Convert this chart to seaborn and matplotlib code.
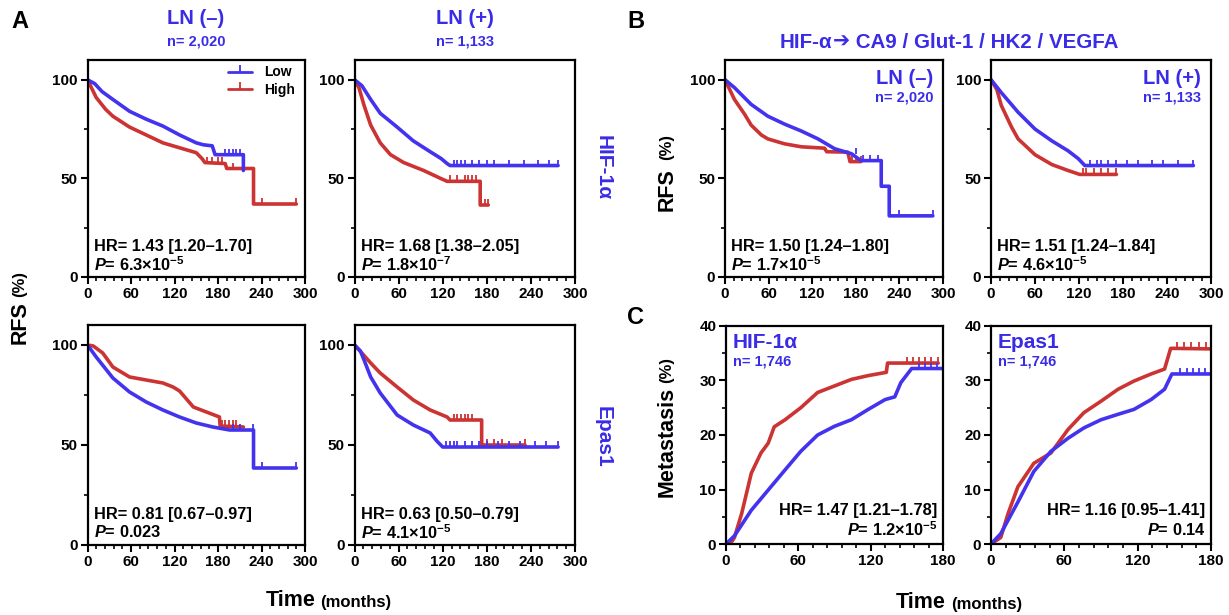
import numpy as np
import matplotlib
matplotlib.use('Agg')
import matplotlib.pyplot as plt
from matplotlib.lines import Line2D
from matplotlib.ticker import MultipleLocator
import seaborn as sns

# ---- data (time in months, RFS / metastasis in %) ----
# A, LN(-), HIF-1a
a1_low_t = [0, 10, 20, 35, 58, 81, 104, 127, 150, 160, 172, 176, 200, 215, 215]
a1_low_s = [100, 98, 94, 90, 84, 80, 76.5, 72, 68, 67, 66.5, 62, 62, 62, 54]
a1_low_c = [190, 195, 200, 205, 210]
a1_high_t = [0, 12, 25, 35, 58, 81, 104, 127, 150, 158, 162, 190, 192, 229, 229, 288]
a1_high_s = [100, 91, 85, 81.5, 76, 72, 68, 65.5, 63, 60, 58, 57.5, 55, 55, 37, 37]
a1_high_c = [165, 172, 180, 185, 200, 240, 288]
# A, LN(+), HIF-1a
a2_low_t = [0, 10, 22, 35, 58, 80, 103, 118, 126, 130, 277]
a2_low_s = [100, 97, 90, 83, 76, 69, 63.5, 60, 57.5, 56.5, 56.5]
a2_low_c = [135, 140, 145, 150, 160, 170, 180, 190, 210, 230, 250, 265, 277]
a2_high_t = [0, 6, 13, 22, 35, 49, 67, 94, 117, 126, 171, 171, 182]
a2_high_s = [100, 96, 87, 77, 68, 62, 58, 54, 50, 48.5, 48.5, 36.5, 36.5]
a2_high_c = [130, 140, 150, 155, 160, 165, 178, 182]
# A, LN(-), Epas1
a3_low_t = [0, 12, 35, 58, 81, 104, 127, 150, 173, 196, 229, 229, 288]
a3_low_s = [100, 94, 83.5, 76.5, 71.5, 67.5, 64, 61, 59, 57.5, 57.5, 38.5, 38.5]
a3_low_c = [200, 210, 228, 240, 288]
a3_high_t = [0, 8, 21, 35, 58, 81, 104, 118, 127, 146, 164, 182, 183, 215]
a3_high_s = [100, 99.5, 96, 89, 84, 82.5, 81, 79, 77, 69, 66.5, 64, 59.5, 59]
a3_high_c = [185, 190, 195, 200, 205]
# A, LN(+), Epas1
a4_low_t = [0, 8, 13, 22, 35, 58, 80, 103, 112, 120, 277]
a4_low_s = [100, 97, 92.5, 84, 76, 65, 60, 56, 52, 49, 49]
a4_low_c = [125, 130, 135, 140, 150, 160, 170, 180, 195, 210, 225, 245, 260, 277]
a4_high_t = [0, 10, 22, 35, 58, 80, 103, 126, 130, 173, 173, 232]
a4_high_s = [100, 96, 91, 86, 79, 72.5, 67.5, 64, 62.5, 62.5, 50, 50]
a4_high_c = [135, 140, 145, 150, 155, 160, 180, 190, 200, 232]
# B, LN(-), HIF-a targets
b1_low_t = [0, 13, 36, 59, 82, 105, 128, 151, 174, 187, 215, 215, 226, 226, 286]
b1_low_s = [100, 96, 87.5, 81.5, 77.5, 74, 70, 65, 62.5, 59, 59, 46, 46, 31, 31]
b1_low_c = [180, 190, 200, 210, 240, 286]
b1_high_t = [0, 13, 27, 36, 50, 59, 82, 105, 137, 140, 169, 172, 187]
b1_high_s = [100, 90, 82.5, 77, 72, 70, 67.5, 66, 65.3, 63.5, 63.3, 58.5, 58.5]
b1_high_c = [175, 180, 187]
# B, LN(+)
b2_low_t = [0, 14, 37, 60, 83, 105, 119, 128, 276]
b2_low_s = [100, 93.5, 83.5, 75, 69, 64, 60, 56.5, 56.5]
b2_low_c = [135, 145, 150, 160, 170, 185, 200, 220, 235, 255, 276]
b2_high_t = [0, 8, 14, 28, 37, 60, 83, 105, 121, 171]
b2_high_s = [100, 95, 87, 76, 70, 62, 57, 54, 52, 52]
b2_high_c = [125, 130, 140, 150, 160, 171]
# C, metastasis, HIF-1a
c1_high_t = [0, 5, 7, 13, 21, 29, 35, 40, 49, 62, 76, 90, 104, 118, 133, 134, 176]
c1_high_m = [0, 0.5, 1.2, 5.6, 13, 16.7, 18.5, 21.5, 22.8, 25, 27.8, 29, 30.2, 30.9, 31.5, 33.2, 33.2]
c1_high_c = [150, 155, 160, 165, 170, 176]
c1_low_t = [0, 7, 21, 35, 49, 62, 76, 90, 104, 118, 132, 140, 145, 154, 180]
c1_low_m = [0, 1.5, 6.2, 9.9, 13.6, 17, 20, 21.6, 22.8, 24.7, 26.5, 27, 29.6, 32.2, 32.2]
c1_low_c = [160, 165, 170, 175, 180]
# C, metastasis, Epas1
c2_high_t = [0, 8, 14, 22, 35, 49, 63, 76, 90, 104, 117, 131, 142, 147, 180]
c2_high_m = [0, 1.2, 5.6, 10.5, 14.8, 16.7, 21, 24.1, 26.2, 28.4, 29.9, 31.2, 32.1, 35.9, 35.8]
c2_high_c = [152, 158, 164, 170, 176]
c2_low_t = [0, 8, 22, 35, 49, 63, 76, 90, 104, 117, 131, 142, 148, 180]
c2_low_m = [0, 1.9, 7.7, 13.3, 17, 19.4, 21.3, 22.8, 23.8, 24.7, 26.5, 28.4, 31.2, 31.2]
c2_low_c = [155, 160, 165, 170, 175, 180]

hr_labels = ['HR= 1.43 [1.20–1.70]', 'HR= 1.68 [1.38–2.05]', 'HR= 0.81 [0.67–0.97]',
             'HR= 0.63 [0.50–0.79]', 'HR= 1.50 [1.24–1.80]', 'HR= 1.51 [1.24–1.84]',
             'HR= 1.47 [1.21–1.78]', 'HR= 1.16 [0.95–1.41]']
p_labels = [r'$\it{P}$= 6.3×10$^{-5}$', r'$\it{P}$= 1.8×10$^{-7}$', r'$\it{P}$= 0.023',
            r'$\it{P}$= 4.1×10$^{-5}$', r'$\it{P}$= 1.7×10$^{-5}$', r'$\it{P}$= 4.6×10$^{-5}$',
            r'$\it{P}$= 1.2×10$^{-5}$', r'$\it{P}$= 0.14']

BLUE = '#4433EE'
RED = '#CC3333'
TXT_BLUE = '#3A2BE6'

sns.set_theme(style='ticks')
plt.rcParams['font.family'] = ['Liberation Sans', 'DejaVu Sans']
plt.rcParams['font.weight'] = 'bold'
plt.rcParams['text.color'] = 'black'
plt.rcParams['axes.labelcolor'] = 'black'
plt.rcParams['xtick.color'] = 'black'
plt.rcParams['ytick.color'] = 'black'
plt.rcParams['mathtext.fontset'] = 'custom'
plt.rcParams['mathtext.rm'] = 'Liberation Sans:bold'
plt.rcParams['mathtext.it'] = 'Liberation Sans:italic:bold'
plt.rcParams['mathtext.bf'] = 'Liberation Sans:bold'

W, H = 1229, 615
fig = plt.figure(figsize=(W / 100, H / 100), dpi=100)


def px_axes(x0, y0, x1, y1):
    return fig.add_axes([x0 / W, 1 - y1 / H, (x1 - x0) / W, (y1 - y0) / H])


def km(ax, t, s, cens, color):
    sns.lineplot(x=t, y=s, ax=ax, color=color, lw=2.6, sort=False, estimator=None)
    ys = [s[np.searchsorted(t, c, side='right') - 1] for c in cens]
    ax.plot(cens, ys, ls='none', marker=2, ms=4, mew=1.3, color=color)


def style(ax, xmax, ymax, xmaj, xmin, ymaj, ymin):
    ax.set_xlim(0, xmax)
    ax.set_ylim(0, ymax)
    ax.xaxis.set_major_locator(MultipleLocator(xmaj))
    ax.xaxis.set_minor_locator(MultipleLocator(xmin))
    ax.yaxis.set_major_locator(MultipleLocator(ymaj))
    ax.yaxis.set_minor_locator(MultipleLocator(ymin))
    ax.tick_params(which='major', length=5, width=1.5, labelsize=11, pad=2,
                   color='black', labelcolor='black')
    ax.tick_params(which='minor', length=3, width=1.2, color='black')
    for sp in ax.spines.values():
        sp.set_visible(True)
        sp.set_linewidth(1.6)
        sp.set_color('black')
    ax.set_xlabel('')
    ax.set_ylabel('')
    for lab in ax.get_xticklabels() + ax.get_yticklabels():
        lab.set_fontweight('bold')


rfs_panels = [
    ((87.5, 60, 305, 277), a1_low_t, a1_low_s, a1_low_c, a1_high_t, a1_high_s, a1_high_c),
    ((354.5, 60, 575, 277), a2_low_t, a2_low_s, a2_low_c, a2_high_t, a2_high_s, a2_high_c),
    ((87.5, 325, 305, 545), a3_low_t, a3_low_s, a3_low_c, a3_high_t, a3_high_s, a3_high_c),
    ((354.5, 325, 575, 545), a4_low_t, a4_low_s, a4_low_c, a4_high_t, a4_high_s, a4_high_c),
    ((725, 60, 943, 277), b1_low_t, b1_low_s, b1_low_c, b1_high_t, b1_high_s, b1_high_c),
    ((991, 60, 1211, 277), b2_low_t, b2_low_s, b2_low_c, b2_high_t, b2_high_s, b2_high_c),
]
axes = []
for i, (box, lt, ls_, lc, ht, hs, hc) in enumerate(rfs_panels):
    ax = px_axes(*box)
    km(ax, ht, hs, hc, RED)
    km(ax, lt, ls_, lc, BLUE)
    style(ax, 300, 110, 60, 12, 50, 25)
    ax.text(0.028, 0.14, hr_labels[i], transform=ax.transAxes, fontsize=11.8,
            fontweight='bold', va='center', ha='left')
    ax.text(0.028, 0.058, p_labels[i], transform=ax.transAxes, fontsize=11.8,
            fontweight='bold', va='center', ha='left')
    axes.append(ax)

met_panels = [
    ((726, 326, 943, 544), c1_low_t, c1_low_m, c1_low_c, c1_high_t, c1_high_m, c1_high_c),
    ((991, 326, 1211, 544), c2_low_t, c2_low_m, c2_low_c, c2_high_t, c2_high_m, c2_high_c),
]
for j, (box, lt, lm, lc, ht, hm, hc) in enumerate(met_panels):
    ax = px_axes(*box)
    km(ax, ht, hm, hc, RED)
    km(ax, lt, lm, lc, BLUE)
    style(ax, 180, 40, 60, 12, 10, 5)
    ax.text(0.975, 0.152, hr_labels[6 + j], transform=ax.transAxes, fontsize=11.8,
            fontweight='bold', va='center', ha='right')
    ax.text(0.975, 0.066, p_labels[6 + j], transform=ax.transAxes, fontsize=11.8,
            fontweight='bold', va='center', ha='right')
    axes.append(ax)

# legend in first panel
handles = [Line2D([0], [0], color=BLUE, lw=2, marker=2, ms=5, mew=1.3),
           Line2D([0], [0], color=RED, lw=2, marker=2, ms=5, mew=1.3)]
axes[0].legend(handles, ['Low', 'High'], loc='upper right', frameon=False,
               fontsize=10, handlelength=1.7, handletextpad=0.9, labelspacing=0.25,
               borderaxespad=0.3, bbox_to_anchor=(1.0, 1.02))

# in-panel labels for B and C
axes[4].text(0.955, 0.915, 'LN (–)', transform=axes[4].transAxes, color=TXT_BLUE,
             fontsize=14.5, ha='right', va='center')
axes[4].text(0.955, 0.825, 'n= 2,020', transform=axes[4].transAxes, color=TXT_BLUE,
             fontsize=10.5, ha='right', va='center')
axes[5].text(0.955, 0.915, 'LN (+)', transform=axes[5].transAxes, color=TXT_BLUE,
             fontsize=14.5, ha='right', va='center')
axes[5].text(0.955, 0.825, 'n= 1,133', transform=axes[5].transAxes, color=TXT_BLUE,
             fontsize=10.5, ha='right', va='center')
axes[6].text(0.032, 0.925, 'HIF-1α', transform=axes[6].transAxes, color=TXT_BLUE,
             fontsize=15, ha='left', va='center')
axes[6].text(0.032, 0.835, 'n= 1,746', transform=axes[6].transAxes, color=TXT_BLUE,
             fontsize=10.5, ha='left', va='center')
axes[7].text(0.032, 0.925, 'Epas1', transform=axes[7].transAxes, color=TXT_BLUE,
             fontsize=15, ha='left', va='center')
axes[7].text(0.032, 0.835, 'n= 1,746', transform=axes[7].transAxes, color=TXT_BLUE,
             fontsize=10.5, ha='left', va='center')


def ftext(x, y, s, **kw):
    kw.setdefault('ha', 'center')
    return fig.text(x / W, 1 - y / H, s, va='center', fontweight='bold', **kw)


# panel letters
ftext(20, 22, 'A', fontsize=17)
ftext(636, 22, 'B', fontsize=17)
ftext(636, 318, 'C', fontsize=17)

# column headers panel A
ftext(196, 19, 'LN (–)', fontsize=14.5, color=TXT_BLUE)
ftext(196, 42, 'n= 2,020', fontsize=10.5, color=TXT_BLUE)
ftext(465, 19, 'LN (+)', fontsize=14.5, color=TXT_BLUE)
ftext(465, 42, 'n= 1,133', fontsize=10.5, color=TXT_BLUE)

# row labels panel A
ftext(603, 168, 'HIF-1α', fontsize=15, color=TXT_BLUE, rotation=270)
ftext(603, 437, 'Epas1', fontsize=15, color=TXT_BLUE, rotation=270)

# B title, built from pieces so the arrow can use a font with a full-size glyph
renderer = fig.canvas.get_renderer()
parts = [('HIF-α', ['Liberation Sans']), ('➔', ['DejaVu Sans']),
         (' CA9 / Glut-1 / HK2 / VEGFA', ['Liberation Sans'])]
x = 780
for txt, fam in parts:
    t = ftext(x, 42, txt, fontsize=14.8, color=TXT_BLUE, ha='left', family=fam)
    x += t.get_window_extent(renderer).width

# axis labels
ftext(20, 323, 'RFS', fontsize=15.5, rotation=90)
ftext(20, 284, '(%)', fontsize=12, rotation=90)
ftext(667, 190, 'RFS', fontsize=15.5, rotation=90)
ftext(667, 147, '(%)', fontsize=12, rotation=90)
ftext(667, 442, 'Metastasis', fontsize=15.5, rotation=90)
ftext(667, 370, '(%)', fontsize=12, rotation=90)
ftext(291, 600, 'Time', fontsize=15.5)
ftext(356, 602, '(months)', fontsize=12)
ftext(921, 602, 'Time', fontsize=15.5)
ftext(987, 604, '(months)', fontsize=12)

fig.savefig('out.png', dpi=100)
